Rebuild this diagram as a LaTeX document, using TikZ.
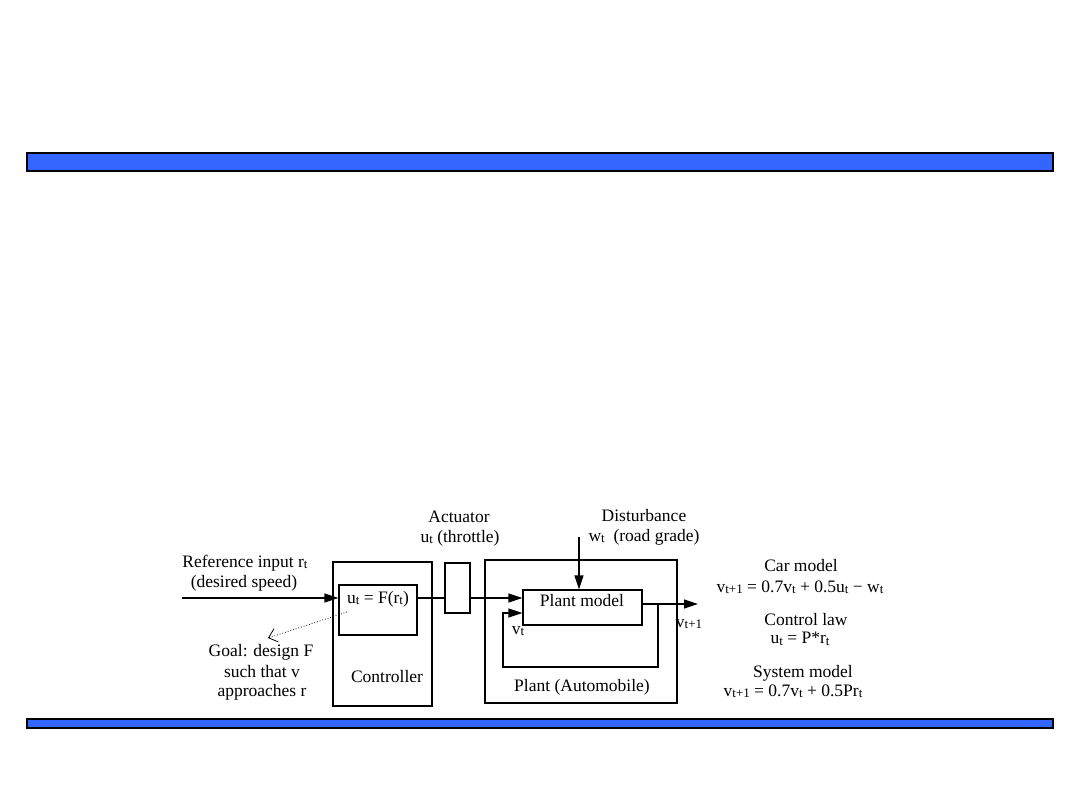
\documentclass[tikz,border=0pt]{standalone}
\usepackage{fontspec}
\setmainfont{Liberation Serif}
\usetikzlibrary{arrows.meta,calc}
\definecolor{barblue}{HTML}{3366FF}
\newcommand{\sbs}[1]{{\fontsize{13}{14}\selectfont\raisebox{-0.25ex}{#1}}}
\begin{document}
\begin{tikzpicture}[x=1pt,y=-1pt,
  box/.style={draw,line width=1.2pt,inner sep=0pt},
  lbl/.style={font=\fontsize{17.5}{19}\selectfont,inner sep=0pt,align=center},
  arr/.style={line width=1.2pt,-{Triangle[length=14pt,width=9pt]}},
  wire/.style={line width=1.2pt},
  bar/.style={draw=black,line width=2pt,fill=barblue}]
\useasboundingbox (0,0) rectangle (1080,810);
\fill[white] (0,0) rectangle (1080,810);
\path[bar] (27,153) rectangle (1053,171);
\path[bar] (27,719) rectangle (1053,728);

% boxes
\node[box,minimum width=99pt,minimum height=144pt] (ctrl) at (382.5,634) {};
\node[box,minimum width=78pt,minimum height=50pt] (inner) at (378,610) {};
\node[box,minimum width=25pt,minimum height=50pt] (act) at (457.5,588) {};
\node[box,minimum width=192pt,minimum height=143pt] (plant) at (581,631.5) {};
\node[box,minimum width=119pt,minimum height=35pt] (pm) at (582.5,607.5) {};

% texts
\node[lbl] (ftext) at (378,599) {u\sbs{t} = F(r\sbs{t})};
\node[lbl] (pmtext) at (582,601) {Plant model};
\node[lbl] (ref1) at (245,563) {Reference input r\sbs{t}};
\node[lbl] (ref2) at (244,583) {(desired speed)};
\node[lbl] (goal1) at (261,652) {Goal: design F};
\node[lbl] (goal2) at (262,672) {such that v};
\node[lbl] (goal3) at (262,692) {approaches r};
\node[lbl] (ctrltext) at (387,677) {Controller};
\node[lbl] (acttext1) at (459,517) {Actuator};
\node[lbl] (acttext2) at (460,538) {u\sbs{t} (throttle)};
\node[lbl] (dist1) at (644,516) {Disturbance};
\node[lbl] (dist2) at (644,537) {w\sbs{t}\ \ (road grade)};
\node[lbl] (planttext) at (582,687) {Plant (Automobile)};
\node[lbl] (vt) at (518,631) {v\sbs{t}};
\node[lbl] (vt1) at (689,624) {v\sbs{t+1}};
\node[lbl] (car1) at (801,566) {Car model};
\node[lbl] (car2) at (800,587) {v\sbs{t+1} = 0.7v\sbs{t} + 0.5u\sbs{t} − w\sbs{t}};
\node[lbl] (law1) at (806,620) {Control law};
\node[lbl] (law2) at (800,639) {u\sbs{t} = P*r\sbs{t}};
\node[lbl] (sys1) at (803,673) {System model};
\node[lbl] (sys2) at (793,691) {v\sbs{t+1} = 0.7v\sbs{t} + 0.5Pr\sbs{t}};

% connectors
\coordinate (rin) at (182,598);
\draw[arr] (rin) -- (rin -| inner.west);
\draw[wire] (inner.east |- rin) -- (act.west |- rin);
\draw[arr] (act.east |- rin) -- (pm.west |- rin);
\coordinate (out) at (698,604);
\draw[arr] (pm.east |- out) -- (out);
\coordinate (fb1) at (658,604);
\coordinate (fb2) at (503,667);
\coordinate (fbin) at (523,613);
\draw[arr] (fb1) -- (fb1 |- fb2) -- (fb2) -- (fb2 |- fbin) -- (fbin -| pm.west);
\coordinate (dsrc) at (579,537);
\draw[arr] (dsrc) -- (dsrc |- pm.north);
\coordinate (gsrc) at (347,612);
\coordinate (gtip) at (268,638);
\draw[line width=0.8pt,dotted] (gsrc) -- (gtip);
\draw[line width=0.8pt,-{Straight Barb[length=8pt,width=14pt]}] ($(gtip)!0.01!(gsrc)$) -- (gtip);
\end{tikzpicture}
\end{document}
